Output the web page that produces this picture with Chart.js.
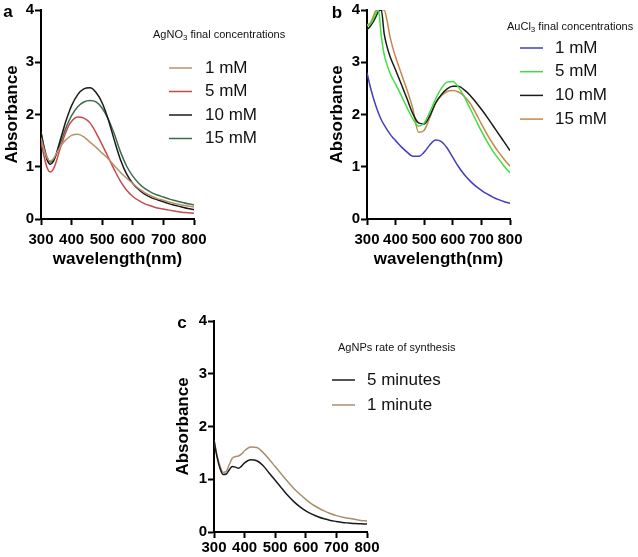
<!DOCTYPE html>
<html>
<head>
<meta charset="utf-8">
<script src="https://cdn.jsdelivr.net/npm/chart.js@4.4.1/dist/chart.umd.min.js"></script>
<style>
  html, body { margin: 0; padding: 0; background: #fff; }
  #wrap { position: relative; width: 638px; height: 557px; overflow: hidden; }
  #wrap canvas { position: absolute; left: 0; top: 0; }
  .tag { position: absolute; font: bold 17px "Liberation Sans", Arial, sans-serif; line-height: 1; transform: translate(-50%, -50%); }
</style>
</head>
<body>
<div id="wrap">
  <canvas id="chartA" width="638" height="557"></canvas>
  <canvas id="chartB" width="638" height="557"></canvas>
  <canvas id="chartC" width="638" height="557"></canvas>
  <div class="tag" style="left:8px;top:11px">a</div>
  <div class="tag" style="left:337px;top:12px">b</div>
  <div class="tag" style="left:182px;top:322px">c</div>
</div>
<script>
// wavelengths (nm) shared by every spectrum
const wavelengths = [300, 310, 320, 330, 340, 350, 360, 370, 380, 390, 400,
  420, 440, 460, 480, 500, 520, 540, 560, 580, 600,
  620, 640, 660, 680, 700, 720, 740, 760, 780, 800];

// panel a - AgNO3
const agLabels = ['1 mM', '5 mM', '10 mM', '15 mM'];
const ag1 = [1.55, 1.33, 1.17, 1.11, 1.15, 1.25, 1.35, 1.44, 1.51, 1.56, 1.60,
  1.62, 1.57, 1.47, 1.37, 1.26, 1.15, 1.02, 0.89, 0.78, 0.68,
  0.58, 0.50, 0.44, 0.39, 0.36, 0.32, 0.29, 0.27, 0.25, 0.23];
const ag5 = [1.47, 1.20, 0.98, 0.90, 0.95, 1.10, 1.30, 1.48, 1.64, 1.78, 1.87,
  1.95, 1.93, 1.84, 1.65, 1.42, 1.18, 0.94, 0.72, 0.55, 0.43,
  0.35, 0.29, 0.25, 0.21, 0.19, 0.17, 0.15, 0.13, 0.12, 0.11];
const ag10 = [1.66, 1.36, 1.13, 1.05, 1.10, 1.25, 1.45, 1.65, 1.85, 2.02, 2.17,
  2.38, 2.49, 2.51, 2.42, 2.22, 1.90, 1.50, 1.13, 0.86, 0.68,
  0.56, 0.47, 0.41, 0.37, 0.33, 0.29, 0.26, 0.23, 0.20, 0.18];
const ag15 = [1.66, 1.38, 1.18, 1.09, 1.12, 1.24, 1.40, 1.56, 1.72, 1.86, 1.98,
  2.15, 2.24, 2.27, 2.24, 2.12, 1.91, 1.62, 1.28, 1.01, 0.82,
  0.68, 0.58, 0.51, 0.46, 0.42, 0.38, 0.35, 0.32, 0.29, 0.27];

// panel b - AuCl3
const auLabels = ['1 mM', '5 mM', '10 mM', '15 mM'];
const au1 = [2.80, 2.56, 2.36, 2.18, 2.03, 1.90, 1.80, 1.71, 1.63, 1.56, 1.50,
  1.38, 1.28, 1.20, 1.20, 1.28, 1.42, 1.51, 1.48, 1.36, 1.18,
  1.00, 0.85, 0.73, 0.63, 0.55, 0.48, 0.42, 0.37, 0.33, 0.30];
const au5 = [3.70, 3.72, 3.80, 3.92, 4.00, 3.50, 3.15, 2.95, 2.80, 2.68, 2.58,
  2.36, 2.13, 1.92, 1.78, 1.84, 2.05, 2.30, 2.50, 2.62, 2.63,
  2.52, 2.34, 2.12, 1.90, 1.68, 1.48, 1.30, 1.15, 1.01, 0.88];
const au10 = [3.62, 3.68, 3.76, 3.86, 3.97, 4.00, 3.55, 3.30, 3.12, 2.98, 2.85,
  2.58, 2.30, 2.02, 1.84, 1.82, 1.98, 2.22, 2.38, 2.49, 2.54,
  2.54, 2.47, 2.37, 2.24, 2.10, 1.95, 1.79, 1.63, 1.47, 1.31];
const au15 = [3.72, 3.74, 3.85, 3.98, 4.00, 4.00, 4.00, 3.80, 3.50, 3.28, 3.10,
  2.78, 2.47, 2.12, 1.66, 1.70, 1.95, 2.22, 2.36, 2.44, 2.46,
  2.43, 2.35, 2.22, 2.03, 1.82, 1.62, 1.44, 1.28, 1.14, 1.01];

// panel c - AgNPs rate of synthesis
const rateLabels = ['5 minutes', '1 minute'];
const rate5 = [1.74, 1.42, 1.20, 1.09, 1.10, 1.18, 1.24, 1.23, 1.21, 1.25, 1.31,
  1.37, 1.35, 1.26, 1.12, 0.98, 0.84, 0.70, 0.58, 0.48, 0.40,
  0.34, 0.29, 0.25, 0.22, 0.20, 0.18, 0.17, 0.16, 0.155, 0.15];
const rate1 = [1.74, 1.45, 1.24, 1.13, 1.15, 1.28, 1.40, 1.43, 1.44, 1.48, 1.54,
  1.61, 1.60, 1.51, 1.38, 1.24, 1.10, 0.96, 0.83, 0.72, 0.62,
  0.53, 0.46, 0.40, 0.35, 0.31, 0.28, 0.26, 0.24, 0.22, 0.21];

const xTicks = [300, 400, 500, 600, 700, 800];
const yTicks = [0, 1, 2, 3, 4];

const FAMILY = '"Liberation Sans", Arial, sans-serif';

// draws the legend box that sits partly over the plot
const sideLegend = {
  id: 'sideLegend',
  afterDraw(chart, args, opts) {
    const ctx = chart.ctx;
    ctx.save();
    ctx.textBaseline = 'middle';
    ctx.fillStyle = '#111';
    let x = opts.titleX;
    opts.title.forEach(part => {
      ctx.font = (part.sub ? '8px ' : '11px ') + FAMILY;
      ctx.fillText(part.text, x, opts.titleY + (part.sub ? 3 : 0));
      x += ctx.measureText(part.text).width;
    });
    ctx.font = '17px ' + FAMILY;
    chart.data.datasets.forEach((ds, i) => {
      const y = opts.rowY + i * opts.rowGap;
      ctx.strokeStyle = ds.borderColor;
      ctx.lineWidth = 1.5;
      ctx.beginPath();
      ctx.moveTo(opts.lineX, y);
      ctx.lineTo(opts.lineX + 23, y);
      ctx.stroke();
      ctx.fillText(ds.label, opts.textX, y);
    });
    ctx.restore();
  }
};

function series(label, values, color) {
  return {
    label: label,
    data: wavelengths.map((w, i) => ({ x: w, y: values[i] })),
    borderColor: color,
    borderWidth: 1.5,
    pointRadius: 0,
    fill: false,
    cubicInterpolationMode: 'monotone'
  };
}

function makeChart(id, datasets, cfg) {
  const tickFont = { family: FAMILY, size: 15, weight: 'bold' };
  const titleFont = { family: FAMILY, size: 17, weight: 'bold' };
  return new Chart(document.getElementById(id), {
    type: 'line',
    data: { datasets: datasets },
    plugins: [sideLegend],
    options: {
      responsive: false,
      animation: false,
      layout: { padding: cfg.padding },
      plugins: {
        legend: { display: false },
        tooltip: { enabled: false },
        sideLegend: cfg.legend
      },
      scales: {
        x: {
          type: 'linear',
          min: 300,
          max: 800,
          afterBuildTicks: s => { s.ticks = xTicks.map(v => ({ value: v })); },
          ticks: { color: '#000', font: tickFont, padding: cfg.xTickPad, maxRotation: 0, autoSkip: false },
          grid: { drawOnChartArea: false, tickLength: 6, tickWidth: 2, tickColor: '#000' },
          border: { color: '#000', width: 2 },
          title: { display: cfg.xTitle, text: 'wavelength(nm)', color: '#000', font: titleFont, padding: 0 },
          afterFit: s => { s.height = cfg.xH; }
        },
        y: {
          min: 0,
          max: 4,
          afterBuildTicks: s => { s.ticks = yTicks.map(v => ({ value: v })); },
          ticks: { color: '#000', font: tickFont, padding: 1 },
          grid: { drawOnChartArea: false, tickLength: 6, tickWidth: 2, tickColor: '#000' },
          border: { color: '#000', width: 2 },
          title: { display: true, text: 'Absorbance', color: '#000', font: titleFont, padding: 0 },
          afterFit: s => { s.width = cfg.yW; }
        }
      }
    }
  });
}

makeChart('chartA', [
  series(agLabels[0], ag1, '#b5946a'),
  series(agLabels[1], ag5, '#c54b4b'),
  series(agLabels[2], ag10, '#1a1a1a'),
  series(agLabels[3], ag15, '#3e6b4c')
], {
  padding: { left: 2, top: 9, right: 444, bottom: 287 },
  yW: 39, xH: 51, xTickPad: 6, xTitle: true,
  legend: {
    title: [{ text: 'AgNO' }, { text: '3', sub: true }, { text: ' final concentrations' }],
    titleX: 153, titleY: 35, lineX: 169, textX: 205, rowY: 68, rowGap: 23.5
  }
});

makeChart('chartB', [
  series(auLabels[0], au1, '#3f3fc0'),
  series(auLabels[1], au5, '#3ee03e'),
  series(auLabels[2], au10, '#1a1a1a'),
  series(auLabels[3], au15, '#c8874a')
], {
  padding: { left: 327, top: 9, right: 128, bottom: 287 },
  yW: 40, xH: 51, xTickPad: 6, xTitle: true,
  legend: {
    title: [{ text: 'AuCl' }, { text: '3', sub: true }, { text: ' final concentrations' }],
    titleX: 507, titleY: 27, lineX: 520, textX: 555, rowY: 48, rowGap: 23.7
  }
});

makeChart('chartC', [
  series(rateLabels[0], rate5, '#1a1a1a'),
  series(rateLabels[1], rate1, '#a88f6c')
], {
  padding: { left: 173, top: 321, right: 271, bottom: 0 },
  yW: 41, xH: 25, xTickPad: 1, xTitle: false,
  legend: {
    title: [{ text: 'AgNPs rate of synthesis' }],
    titleX: 338, titleY: 348, lineX: 332, textX: 367, rowY: 380, rowGap: 25
  }
});
</script>
</body>
</html>
